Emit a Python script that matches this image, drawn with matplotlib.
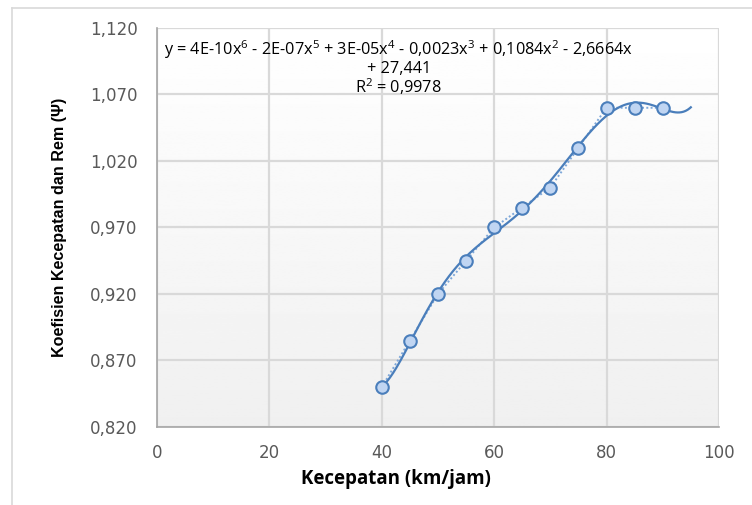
import numpy as np
import matplotlib.pyplot as plt
from matplotlib.lines import Line2D

# data
speed = [40, 45, 50, 55, 60, 65, 70, 75, 80, 85, 90]
psi = [0.850, 0.885, 0.920, 0.945, 0.970, 0.985, 1.000, 1.030, 1.060, 1.060, 1.060]
xticks = [0, 20, 40, 60, 80, 100]
yticks = [0.820, 0.870, 0.920, 0.970, 1.020, 1.070, 1.120]
eq_text = ("y = 4E-10x$^6$ - 2E-07x$^5$ + 3E-05x$^4$ - 0,0023x$^3$ + 0,1084x$^2$ - 2,6664x\n"
           "+ 27,441\nR$^2$ = 0,9978")

plt.rcParams['font.family'] = ['Open Sans', 'DejaVu Sans']
plt.rcParams['mathtext.fontset'] = 'custom'
plt.rcParams['mathtext.rm'] = 'Open Sans'

fig = plt.figure(figsize=(7.52, 5.05), dpi=100)
ax = fig.add_axes([0.2088, 0.1545, 0.956 - 0.2088, 0.9446 - 0.1545])

# grey gradient background of plot area
grad = np.linspace(1.0, 0.94, 256).reshape(-1, 1)
ax.imshow(grad, cmap='gray', vmin=0, vmax=1, extent=[0, 100, 0.820, 1.120],
          aspect='auto', origin='upper', zorder=0)

# polynomial trendline (order 6, forecast to 95)
coef = np.polyfit(speed, psi, 6)
xt = np.linspace(40, 95, 300)
ax.plot(xt, np.polyval(coef, xt), color='#4a7ebb', lw=1.6, zorder=3)

ax.plot(speed, psi, color='#7da7d9', lw=1.4, ls=(0, (1, 1.2)), zorder=2)
ax.plot(speed, psi, ls='none', marker='o', ms=9, mfc='#c0d5f2', mec='#4a7ebb',
        mew=1.5, zorder=4)

ax.set_xlim(0, 100)
ax.set_ylim(0.820, 1.120)
ax.set_xticks(xticks)
ax.set_yticks(yticks)
ax.set_yticklabels([f"{v:.3f}".replace('.', ',') for v in yticks])
ax.grid(True, color='#d9d9d9', lw=1.6, zorder=1)
ax.set_axisbelow(True)
ax.tick_params(length=0, labelsize=12, labelcolor='#595959', pad=14)
for lab in ax.get_xticklabels() + ax.get_yticklabels():
    lab.set_family('DejaVu Sans')
ax.tick_params(axis='x', pad=12)
for s in ['top', 'right']:
    ax.spines[s].set_visible(False)
for s in ['left', 'bottom']:
    ax.spines[s].set_color('#a6a6a6')
    ax.spines[s].set_linewidth(1.2)

ax.set_xlabel("Kecepatan (km/jam)", fontsize=13.5, fontweight='bold')
ax.xaxis.set_label_coords((396 - 157) / (719 - 157), -0.105)
ax.set_ylabel("Koefisien Kecepatan dan Rem (\u03a8)", fontsize=11.6, fontweight='bold',
              family=['Liberation Sans Narrow', 'Liberation Sans', 'DejaVu Sans'])
ax.yaxis.set_label_coords(-0.16, 0.5)

ax.text(0.43, 0.975, eq_text, transform=ax.transAxes, ha='center', va='top',
        fontsize=11.7, linespacing=1.0, zorder=5)

# chart border
fig.add_artist(Line2D([12 / 752, 12 / 752], [0, 1 - 8 / 505], color='#d9d9d9', lw=1.2))
fig.add_artist(Line2D([12 / 752, 1], [1 - 8 / 505, 1 - 8 / 505], color='#d9d9d9', lw=1.2))

fig.savefig("out.png", dpi=100)
